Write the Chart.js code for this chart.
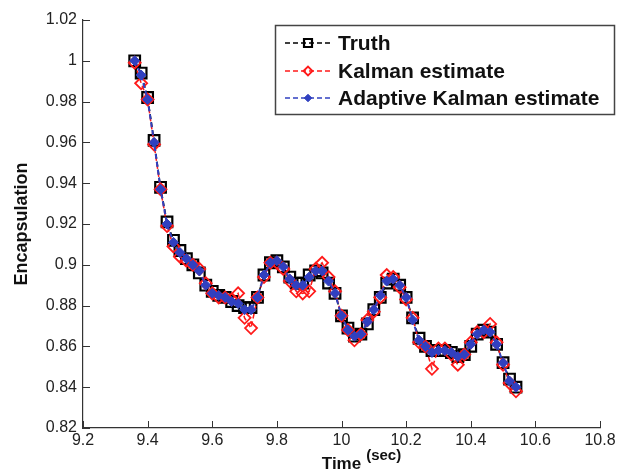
<!DOCTYPE html>
<html>
<head>
<meta charset="utf-8">
<script src="https://cdn.jsdelivr.net/npm/chart.js@4.4.1/dist/chart.umd.min.js"></script>
<style>
  html, body { margin: 0; padding: 0; background: #fff; }
</style>
</head>
<body>
<canvas id="grafico" width="622" height="473"></canvas>
<script>
const tiempos = [9.36, 9.38, 9.40, 9.42, 9.44, 9.46, 9.48, 9.50, 9.52, 9.54,
                 9.56, 9.58, 9.60, 9.62, 9.64, 9.66, 9.68, 9.70, 9.72, 9.74,
                 9.76, 9.78, 9.80, 9.82, 9.84, 9.86, 9.88, 9.90, 9.92, 9.94,
                 9.96, 9.98, 10.00, 10.02, 10.04, 10.06, 10.08, 10.10, 10.12, 10.14,
                 10.16, 10.18, 10.20, 10.22, 10.24, 10.26, 10.28, 10.30, 10.32, 10.34,
                 10.36, 10.38, 10.40, 10.42, 10.44, 10.46, 10.48, 10.50, 10.52, 10.54];

const verdad = [1.000, 0.994, 0.982, 0.961, 0.938, 0.921, 0.912, 0.907, 0.903, 0.900,
                0.896, 0.890, 0.887, 0.885, 0.884, 0.882, 0.880, 0.879, 0.879, 0.884,
                0.895, 0.901, 0.902, 0.899, 0.894, 0.891, 0.891, 0.895, 0.897, 0.896,
                0.891, 0.886, 0.875, 0.869, 0.865, 0.866, 0.871, 0.878, 0.884, 0.891,
                0.893, 0.890, 0.884, 0.874, 0.864, 0.860, 0.858, 0.858, 0.858, 0.857,
                0.855, 0.856, 0.860, 0.866, 0.868, 0.867, 0.861, 0.852, 0.844, 0.840];

const kalman = [0.999, 0.989, 0.981, 0.959, 0.937, 0.919, 0.909, 0.904, 0.902, 0.900,
                0.898, 0.891, 0.886, 0.884, 0.884, 0.883, 0.886, 0.874, 0.869, 0.884,
                0.894, 0.901, 0.901, 0.898, 0.892, 0.887, 0.886, 0.887, 0.898, 0.901,
                0.894, 0.887, 0.875, 0.868, 0.863, 0.866, 0.873, 0.877, 0.884, 0.895,
                0.894, 0.889, 0.883, 0.874, 0.862, 0.860, 0.849, 0.859, 0.859, 0.856,
                0.851, 0.856, 0.862, 0.867, 0.867, 0.871, 0.862, 0.851, 0.842, 0.838];

const adaptivo = [1.000, 0.993, 0.981, 0.960, 0.937, 0.920, 0.911, 0.906, 0.903, 0.900,
                  0.897, 0.890, 0.886, 0.885, 0.884, 0.882, 0.881, 0.878, 0.878, 0.884,
                  0.895, 0.901, 0.902, 0.899, 0.893, 0.890, 0.890, 0.894, 0.897, 0.897,
                  0.892, 0.886, 0.875, 0.868, 0.865, 0.866, 0.872, 0.878, 0.885, 0.892,
                  0.893, 0.890, 0.884, 0.873, 0.863, 0.860, 0.857, 0.858, 0.858, 0.857,
                  0.855, 0.856, 0.861, 0.866, 0.868, 0.867, 0.861, 0.852, 0.843, 0.840];

const ticksX = [9.2, 9.4, 9.6, 9.8, 10, 10.2, 10.4, 10.6, 10.8];
const ticksY = [0.82, 0.84, 0.86, 0.88, 0.9, 0.92, 0.94, 0.96, 0.98, 1, 1.02];

const nombres = ['Truth', 'Kalman estimate', 'Adaptive Kalman estimate'];

function puntos(serie) {
    return tiempos.map((t, i) => ({ x: t, y: serie[i] }));
}

// marcas de los ejes hacia adentro (estilo matlab)
const marcasInternas = {
    id: 'marcasInternas',
    beforeDatasetsDraw(chart) {
        const { ctx, chartArea, scales } = chart;
        ctx.save();
        ctx.strokeStyle = '#333';
        ctx.lineWidth = 1;
        ctx.beginPath();
        scales.x.ticks.forEach(t => {
            const px = Math.round(scales.x.getPixelForValue(t.value)) + 0.5;
            ctx.moveTo(px, chartArea.bottom);
            ctx.lineTo(px, chartArea.bottom - 7);
        });
        scales.y.ticks.forEach(t => {
            const py = Math.round(scales.y.getPixelForValue(t.value)) + 0.5;
            ctx.moveTo(chartArea.left, py);
            ctx.lineTo(chartArea.left + 7, py);
        });
        ctx.stroke();
        ctx.restore();
    }
};

// leyenda con borde y "(sec)" como superindice
const leyendaCaja = {
    id: 'leyendaCaja',
    afterDraw(chart) {
        const { ctx, scales } = chart;
        ctx.save();
        ctx.fillStyle = '#fff';
        ctx.fillRect(275, 25, 340, 90);
        ctx.strokeStyle = '#444';
        ctx.lineWidth = 1.5;
        ctx.strokeRect(275.5, 25.5, 339, 89);

        const filas = [43, 71, 98];
        chart.data.datasets.forEach((ds, i) => {
            const y = filas[i];
            ctx.strokeStyle = ds.borderColor;
            ctx.lineWidth = 1.5;
            ctx.setLineDash([5, 3]);
            ctx.beginPath();
            ctx.moveTo(285, y);
            ctx.lineTo(331, y);
            ctx.stroke();
            ctx.setLineDash([]);
            ctx.lineWidth = ds.pointBorderWidth;
            ctx.strokeStyle = ds.pointBorderColor;
            ctx.fillStyle = ds.pointBackgroundColor;
            Chart.helpers.drawPoint(ctx, {
                pointStyle: ds.pointStyle,
                radius: ds.pointRadius * 0.75,
                rotation: 0,
                borderWidth: ds.pointBorderWidth
            }, 308, y);
            ctx.fillStyle = '#111';
            ctx.font = 'bold 21px "Liberation Sans", Arial, sans-serif';
            ctx.textBaseline = 'middle';
            ctx.textAlign = 'left';
            ctx.fillText(nombres[i], 338, y + 1);
        });

        const centro = (scales.x.left + scales.x.right) / 2;
        ctx.font = 'bold 17px "Liberation Sans", Arial, sans-serif';
        const ancho = ctx.measureText('Time').width;
        ctx.font = 'bold 15px "Liberation Sans", Arial, sans-serif';
        ctx.fillStyle = '#111';
        ctx.textBaseline = 'middle';
        ctx.fillText('(sec)', centro + ancho / 2 + 5, 456);
        ctx.restore();
    }
};

new Chart(document.getElementById('grafico'), {
    type: 'line',
    data: {
        datasets: [
            {
                label: nombres[0],
                data: puntos(verdad),
                borderColor: '#000',
                borderWidth: 1.5,
                borderDash: [5, 3],
                pointStyle: 'rect',
                pointRadius: 7.5,
                pointBorderWidth: 2.2,
                pointBorderColor: '#000',
                pointBackgroundColor: 'rgba(0,0,0,0)',
                order: 3
            },
            {
                label: nombres[1],
                data: puntos(kalman),
                borderColor: '#ff1a1a',
                borderWidth: 1.5,
                borderDash: [5, 3],
                pointStyle: 'rectRot',
                pointRadius: 6,
                pointBorderWidth: 1.8,
                pointBorderColor: '#ff1a1a',
                pointBackgroundColor: 'rgba(0,0,0,0)',
                order: 2
            },
            {
                label: nombres[2],
                data: puntos(adaptivo),
                borderColor: '#3040c0',
                borderWidth: 2,
                borderDash: [5, 3],
                pointStyle: 'rectRot',
                pointRadius: 5,
                pointBorderWidth: 1,
                pointBorderColor: '#3040c0',
                pointBackgroundColor: '#3040c0',
                order: 1
            }
        ]
    },
    options: {
        responsive: false,
        animation: false,
        layout: { padding: { top: 20, right: 22, left: 0, bottom: 0 } },
        plugins: {
            legend: { display: false },
            tooltip: { enabled: false }
        },
        scales: {
            x: {
                type: 'linear',
                min: 9.2,
                max: 10.8,
                afterBuildTicks: s => { s.ticks = ticksX.map(v => ({ value: v })); },
                afterFit: s => { s.height = 45; },
                grid: { display: false, drawTicks: false },
                border: { display: true, color: '#333', width: 1.2 },
                ticks: {
                    padding: 3,
                    color: '#222',
                    font: { family: '"Liberation Sans", Arial, sans-serif', size: 16 },
                    callback: v => String(Number(v.toFixed(2)))
                },
                title: {
                    display: true,
                    text: 'Time',
                    color: '#111',
                    padding: 0,
                    font: { family: '"Liberation Sans", Arial, sans-serif', size: 17, weight: 'bold', lineHeight: 1 }
                }
            },
            y: {
                min: 0.82,
                max: 1.02,
                afterBuildTicks: s => { s.ticks = ticksY.map(v => ({ value: v })); },
                afterFit: s => { s.width = 83; },
                grid: { display: false, drawTicks: false },
                border: { display: true, color: '#333', width: 1.2 },
                ticks: {
                    padding: 6,
                    color: '#222',
                    font: { family: '"Liberation Sans", Arial, sans-serif', size: 16 },
                    callback: v => String(Number(v.toFixed(2)))
                },
                title: {
                    display: true,
                    text: 'Encapsulation',
                    color: '#111',
                    padding: { top: 11, bottom: 0 },
                    font: { family: '"Liberation Sans", Arial, sans-serif', size: 18, weight: 'bold' }
                }
            }
        }
    },
    plugins: [marcasInternas, leyendaCaja]
});
</script>
</body>
</html>
